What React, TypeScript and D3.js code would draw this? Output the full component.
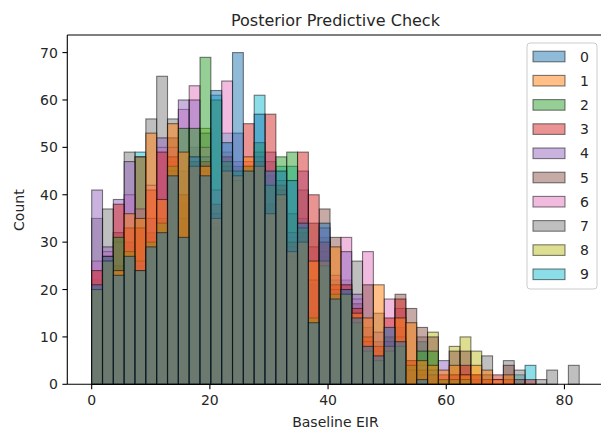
import React from 'react';
import * as d3 from 'd3';

const hueLevels = ['0', '1', '2', '3', '4', '5', '6', '7', '8', '9'];
const palette = ['#1f77b4', '#ff7f0e', '#2ca02c', '#d62728', '#9467bd', '#8c564b', '#e377c2', '#7f7f7f', '#bcbd22', '#17becf'];

const binStart = 0;
const binEnd = 82.5;
const binCount = 45;

const count0 = [21,27,23,27,24,29,32,44,31,48,44,62,51,70,45,57,45,45,43,34,13,34,18,20,14,8,6,12,9,0,1,0,0,0,0,0,0,0,0,0,0,0,0,0,0];
const count1 = [20,26,24,36,35,53,39,55,49,46,46,35,45,44,48,46,36,40,28,30,26,26,29,19,15,14,21,8,14,13,5,4,3,4,2,4,3,1,2,0,0,0,0,0,0];
const count2 = [20,26,31,28,24,30,34,46,54,54,69,60,47,45,46,51,42,48,49,33,14,25,19,19,13,7,5,7,8,4,7,7,1,1,1,0,0,0,0,0,0,0,0,0,0];
const count3 = [24,27,38,33,33,41,49,48,40,47,47,38,48,43,55,47,57,42,30,49,40,30,21,21,16,10,8,14,18,5,3,2,2,2,4,2,1,2,1,0,1,0,0,0,0];
const count4 = [41,29,39,47,26,35,52,45,60,60,48,36,46,53,46,48,49,39,32,45,22,33,20,28,19,9,11,9,10,3,2,3,5,1,1,0,0,0,0,0,0,0,0,0,0];
const count5 = [20,26,25,30,48,32,35,52,35,46,45,33,44,46,45,46,38,41,27,32,34,37,31,20,17,21,9,10,19,16,12,10,1,7,7,2,2,0,4,1,0,0,0,0,0];
const count6 = [26,28,30,40,37,42,50,50,58,63,50,41,64,47,47,47,35,38,29,31,29,28,23,31,18,28,7,18,16,4,4,1,0,2,2,0,0,1,0,0,0,0,0,0,0];
const count7 = [35,37,32,49,25,56,65,56,45,50,53,34,49,44,46,49,47,43,36,41,21,31,22,22,26,12,15,8,12,5,10,2,1,1,1,1,6,0,5,3,0,1,3,0,4];
const count8 = [22,26,32,29,48,31,33,47,38,45,54,32,45,45,45,46,37,40,31,29,15,25,17,19,14,7,5,7,9,3,3,11,0,8,10,7,1,0,0,0,0,0,0,0,0];
const count9 = [20,26,23,27,49,29,32,44,33,47,46,61,53,43,46,61,44,46,46,35,16,27,20,21,13,8,6,7,8,2,9,3,0,0,1,0,0,0,0,2,4,0,0,0,0];

const seriesCounts = [count0, count1, count2, count3, count4, count5, count6, count7, count8, count9];

const xTicks = [0, 20, 40, 60, 80];
const yTicks = [0, 10, 20, 30, 40, 50, 60, 70];
const titleText = 'Posterior Predictive Check';
const xLabel = 'Baseline EIR';
const yLabel = 'Count';

const W = 601;
const H = 434;
const FONT = '"DejaVu Sans", sans-serif';

export default function App() {
  const span = binEnd - binStart;
  const x = d3.scaleLinear().domain([binStart - 0.05 * span, binEnd + 0.05 * span]).range([67.3, 603.6]);
  const maxCount = d3.max(seriesCounts, (s) => d3.max(s)) as number;
  const y = d3.scaleLinear().domain([0, maxCount * 1.05]).range([384.3, 36]);
  const binW = span / binCount;
  const edges = d3.range(binCount + 1).map((i) => binStart + i * binW);

  const left = x.range()[0];
  const right = x.range()[1];
  const bottom = y.range()[0];
  const top = y.range()[1];

  const drawOrder = d3.range(hueLevels.length).reverse();

  const legendX = 527;
  const legendY = 43;
  const rowH = 24.2;

  return (
    <svg width={W} height={H} style={{ position: 'absolute', left: 0, top: 0, background: '#fff' }} fontFamily={FONT}>
      <rect x={0} y={0} width={W} height={H} fill="#fff" />
      {drawOrder.map((h) => (
        <g key={h}>
          {seriesCounts[h].map((c, i) =>
            c > 0 ? (
              <rect
                key={i}
                x={x(edges[i])}
                y={y(c)}
                width={x(edges[i + 1]) - x(edges[i])}
                height={bottom - y(c)}
                fill={palette[h]}
                fillOpacity={0.5}
                stroke="#000"
                strokeOpacity={0.5}
                strokeWidth={1.1}
              />
            ) : null
          )}
        </g>
      ))}
      {/* spines */}
      <line x1={left} x2={left} y1={top - 1} y2={bottom} stroke="#000" strokeWidth={1.1} />
      <line x1={left} x2={right} y1={bottom} y2={bottom} stroke="#000" strokeWidth={1.1} />
      <line x1={left} x2={right} y1={top - 1} y2={top - 1} stroke="#000" strokeWidth={1.1} />
      <line x1={right} x2={right} y1={top - 1} y2={bottom} stroke="#000" strokeWidth={1.1} />
      {/* x ticks */}
      {xTicks.map((t) => (
        <g key={t}>
          <line x1={x(t)} x2={x(t)} y1={bottom} y2={bottom + 4.9} stroke="#000" strokeWidth={1.1} />
          <text x={x(t)} y={bottom + 20.5} textAnchor="middle" fontSize={14} fill="#262626">
            {t}
          </text>
        </g>
      ))}
      {/* y ticks */}
      {yTicks.map((t) => (
        <g key={t}>
          <line x1={left - 4.9} x2={left} y1={y(t)} y2={y(t)} stroke="#000" strokeWidth={1.1} />
          <text x={left - 9.5} y={y(t)} dy="0.36em" textAnchor="end" fontSize={14} fill="#262626">
            {t}
          </text>
        </g>
      ))}
      <text x={(left + right) / 2} y={26} textAnchor="middle" fontSize={16} fill="#262626">
        {titleText}
      </text>
      <text x={(left + right) / 2} y={427} textAnchor="middle" fontSize={14} fill="#262626">
        {xLabel}
      </text>
      <text transform={`translate(24,${(top + bottom) / 2}) rotate(-90)`} textAnchor="middle" fontSize={14} fill="#262626">
        {yLabel}
      </text>
      {/* legend */}
      <rect x={legendX} y={legendY} width={70} height={hueLevels.length * rowH + 4} rx={3} fill="#fff" fillOpacity={0.8} stroke="#cccccc" strokeWidth={1} />
      {hueLevels.map((lab, i) => {
        const cy = legendY + 13.5 + i * rowH;
        return (
          <g key={lab}>
            <rect x={legendX + 6} y={cy - 5.3} width={32} height={10.6} fill={palette[i]} fillOpacity={0.5} stroke="#000" strokeOpacity={0.5} strokeWidth={1.1} />
            <text x={legendX + 53} y={cy} dy="0.36em" fontSize={14} fill="#262626">
              {lab}
            </text>
          </g>
        );
      })}
    </svg>
  );
}
